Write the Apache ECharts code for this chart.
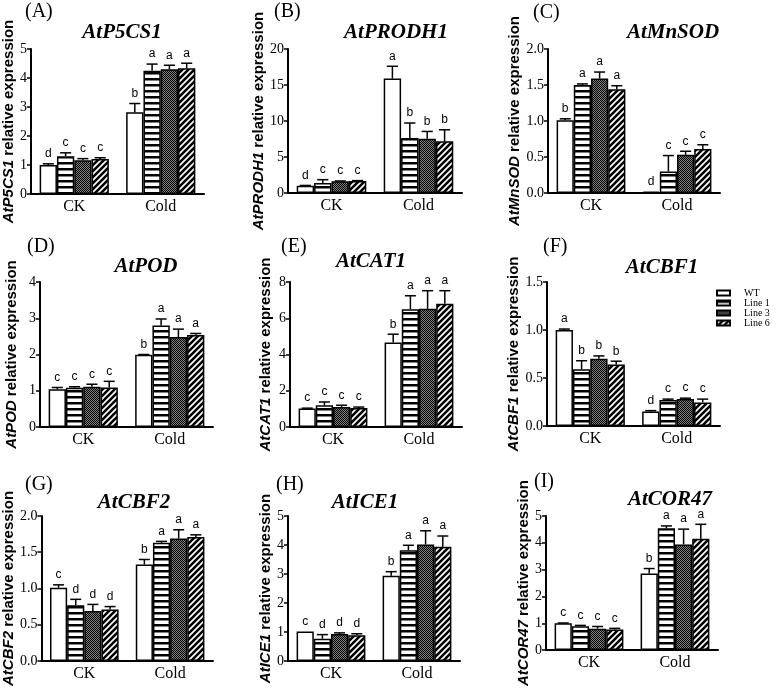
<!DOCTYPE html>
<html><head><meta charset="utf-8">
<script src="https://cdn.jsdelivr.net/npm/echarts@6/dist/echarts.min.js"></script>
<style>html,body{margin:0;padding:0;background:#fff}#c{width:777px;height:688px}</style>
</head><body><div id="c"></div>
<script>
// ---------------- data ----------------
const categories = ['CK', 'Cold'];
const genotypes = ['WT', 'Line 1', 'Line 3', 'Line 6'];

// each row = one genotype, values = [CK, Cold]
const p5cs1Mean = [[1.00, 2.82], [1.30, 4.25], [1.16, 4.30], [1.21, 4.34]];
const p5cs1Err  = [[0.04, 0.30], [0.12, 0.23], [0.06, 0.14], [0.04, 0.17]];
const p5cs1Sig  = [['d', 'b'], ['c', 'a'], ['c', 'a'], ['c', 'a']];

const prodh1Mean = [[1.00, 15.9], [1.39, 7.64], [1.62, 7.55], [1.67, 7.18]];
const prodh1Err  = [[0.05, 1.70], [0.46, 2.08], [0.05, 1.00], [0.05, 1.60]];
const prodh1Sig  = [['d', 'a'], ['c', 'b'], ['c', 'b'], ['c', 'b']];

const mnsodMean = [[1.01, 0.02], [1.50, 0.30], [1.59, 0.53], [1.44, 0.61]];
const mnsodErr  = [[0.02, 0.00], [0.015, 0.22], [0.09, 0.05], [0.05, 0.06]];
const mnsodSig  = [['b', 'd'], ['a', 'c'], ['a', 'c'], ['a', 'c']];

const podMean = [[1.04, 1.99], [1.08, 2.80], [1.11, 2.48], [1.09, 2.54]];
const podErr  = [[0.05, 0.01], [0.03, 0.18], [0.07, 0.22], [0.17, 0.04]];
const podSig  = [['c', 'b'], ['c', 'a'], ['c', 'a'], ['c', 'a']];

const cat1Mean = [[1.02, 4.66], [1.20, 6.50], [1.11, 6.52], [1.05, 6.80]];
const cat1Err  = [[0.02, 0.46], [0.18, 0.74], [0.09, 1.00], [0.05, 0.72]];
const cat1Sig  = [['c', 'b'], ['c', 'a'], ['c', 'a'], ['c', 'a']];

const cbf1Mean = [[1.00, 0.15], [0.59, 0.27], [0.70, 0.28], [0.64, 0.245]];
const cbf1Err  = [[0.01, 0.01], [0.09, 0.01], [0.03, 0.01], [0.035, 0.035]];
const cbf1Sig  = [['a', 'd'], ['b', 'c'], ['b', 'c'], ['b', 'c']];

const cbf2Mean = [[1.01, 1.33], [0.77, 1.63], [0.69, 1.69], [0.71, 1.71]];
const cbf2Err  = [[0.04, 0.07], [0.08, 0.02], [0.09, 0.12], [0.04, 0.03]];
const cbf2Sig  = [['c', 'b'], ['d', 'a'], ['d', 'a'], ['d', 'a']];

const ice1Mean = [[1.02, 2.94], [0.77, 3.82], [0.93, 4.02], [0.89, 3.94]];
const ice1Err  = [[0.00, 0.14], [0.14, 0.17], [0.04, 0.47], [0.05, 0.37]];
const ice1Sig  = [['c', 'b'], ['d', 'a'], ['d', 'a'], ['d', 'a']];

const cor47Mean = [[1.00, 2.86], [0.89, 4.54], [0.80, 3.94], [0.77, 4.15]];
const cor47Err  = [[0.01, 0.18], [0.03, 0.09], [0.08, 0.57], [0.04, 0.54]];
const cor47Sig  = [['c', 'b'], ['c', 'a'], ['c', 'a'], ['c', 'a']];

const geneNames = ['AtP5CS1', 'AtPRODH1', 'AtMnSOD', 'AtPOD', 'AtCAT1', 'AtCBF1', 'AtCBF2', 'AtICE1', 'AtCOR47'];
const panelTags = ['(A)', '(B)', '(C)', '(D)', '(E)', '(F)', '(G)', '(H)', '(I)'];
const yMax      = [5, 20, 2, 4, 8, 1.5, 2, 5, 5];
const yInterval = [1, 5, 0.5, 1, 2, 0.5, 0.5, 1, 1];
const yDecimals = [0, 0, 1, 0, 0, 1, 1, 0, 0];

const genes = [
  [p5cs1Mean, p5cs1Err, p5cs1Sig], [prodh1Mean, prodh1Err, prodh1Sig], [mnsodMean, mnsodErr, mnsodSig],
  [podMean, podErr, podSig], [cat1Mean, cat1Err, cat1Sig], [cbf1Mean, cbf1Err, cbf1Sig],
  [cbf2Mean, cbf2Err, cbf2Sig], [ice1Mean, ice1Err, ice1Sig], [cor47Mean, cor47Err, cor47Sig]
];

// ---------------- layout ----------------
const layout = [
  {left: 31,  right: 204, top: 49,  bottom: 194, nameGap: 15, tx: 122, ty: 33,  lx: 25,  ly: 12},
  {left: 288, right: 462, top: 49,  bottom: 193, nameGap: 15, tx: 396, ty: 33,  lx: 274, ly: 12},
  {left: 548, right: 720, top: 49,  bottom: 193, nameGap: 18, tx: 673, ty: 33,  lx: 533, ly: 13},
  {left: 40,  right: 213, top: 282, bottom: 427, nameGap: 21, tx: 146, ty: 267, lx: 27,  ly: 247},
  {left: 290, right: 462, top: 282, bottom: 427, nameGap: 17, tx: 371, ty: 262, lx: 281, ly: 247},
  {left: 547, right: 720, top: 282, bottom: 426, nameGap: 16, tx: 662, ty: 268, lx: 543, ly: 247},
  {left: 39,  right: 213, top: 516, bottom: 661, nameGap: 22, tx: 134, ty: 503, lx: 25,  ly: 485},
  {left: 288, right: 460, top: 516, bottom: 661, nameGap: 14, tx: 365, ty: 503, lx: 276, ly: 485},
  {left: 546, right: 718, top: 516, bottom: 661, nameGap: 15, tx: 670, ty: 500, lx: 534, ly: 482}
];

const SERIF = '"Liberation Serif", "Times New Roman", serif';
const SANS = '"Liberation Sans", Arial, sans-serif';

// ---------------- patterns ----------------
function mk(w, h, draw) {
  const c = document.createElement('canvas'); c.width = w; c.height = h;
  const ctx = c.getContext('2d'); ctx.fillStyle = '#fff'; ctx.fillRect(0, 0, w, h); draw(ctx, w, h);
  return {image: c, repeat: 'repeat'};
}
const fillWT = '#ffffff';
const fillL1 = mk(6, 6, (ctx) => { ctx.fillStyle = '#000'; ctx.fillRect(0, 0, 6, 2.5); });
const fillL3 = mk(2, 2, (ctx) => {
  ctx.fillStyle = '#808080'; ctx.fillRect(0, 0, 2, 2);
  ctx.fillStyle = '#000'; ctx.fillRect(0, 0, 1, 1); ctx.fillRect(1, 1, 1, 1);
});
const fillL6 = mk(6, 6, (ctx, w, h) => {
  ctx.strokeStyle = '#000'; ctx.lineWidth = 2.6; ctx.beginPath();
  ctx.moveTo(-1, h + 1); ctx.lineTo(w + 1, -1);
  ctx.moveTo(-1, 1); ctx.lineTo(1, -1);
  ctx.moveTo(w - 1, h + 1); ctx.lineTo(w + 1, h - 1);
  ctx.stroke();
});
const fills = [fillWT, fillL1, fillL3, fillL6];

// ---------------- option ----------------
const grid = [], xAxis = [], yAxis = [], series = [], graphic = [];
layout.forEach((p, i) => {
  grid.push({left: p.left, top: p.top, width: p.right - p.left, height: p.bottom - p.top});
  xAxis.push({
    type: 'category', gridIndex: i, data: categories,
    axisTick: {show: false},
    axisLine: {lineStyle: {color: '#000', width: 2}},
    axisLabel: {color: '#000', fontFamily: SERIF, fontSize: 16, margin: 5}
  });
  yAxis.push({
    type: 'value', gridIndex: i, min: 0, max: yMax[i], interval: yInterval[i],
    splitLine: {show: false},
    axisLine: {show: true, lineStyle: {color: '#000', width: 2}},
    axisTick: {show: true, length: 4, lineStyle: {color: '#000', width: 1.5}},
    axisLabel: {color: '#000', fontFamily: SERIF, fontSize: 14, margin: 4,
      formatter: v => yDecimals[i] ? v.toFixed(yDecimals[i]) : String(v)},
    name: '{i|' + geneNames[i] + '} relative expression',
    nameLocation: 'middle', nameGap: p.nameGap,
    nameTextStyle: {color: '#000', fontFamily: SANS, fontWeight: 'bold', fontSize: 15,
      rich: {i: {color: '#000', fontFamily: SANS, fontWeight: 'bold', fontStyle: 'italic', fontSize: 15}}}
  });
  const [mean, err, sig] = genes[i];
  genotypes.forEach((g, k) => {
    series.push({
      type: 'bar', name: g, xAxisIndex: i, yAxisIndex: i, data: mean[k],
      barGap: '0%', barCategoryGap: '20%', silent: true,
      itemStyle: {color: fills[k], borderColor: '#000', borderWidth: 1.5}
    });
  });
  const eData = [], letters = [];
  categories.forEach((c, ci) => {
    genotypes.forEach((g, k) => { eData.push([ci, k, mean[k][ci], err[k][ci]]); letters.push(sig[k][ci]); });
  });
  series.push({
    type: 'custom', xAxisIndex: i, yAxisIndex: i, data: eData, silent: true, z: 5,
    encode: {x: 0, y: 2},
    renderItem: (params, api) => {
      const ci = api.value(0), k = api.value(1), v = api.value(2), e = api.value(3);
      const band = api.size([1, 0])[0];
      const bw = band * 0.8 / 4;
      const base = api.coord([ci, v]);
      const x = base[0] + (k - 1.5) * bw;
      const yTop = api.coord([ci, v + e])[1];
      const cap = bw * 0.32;
      const children = [];
      if (e > 0) {
        children.push({type: 'line', shape: {x1: x, y1: base[1], x2: x, y2: yTop}, style: {stroke: '#000', lineWidth: 1.5}});
        children.push({type: 'line', shape: {x1: x - cap, y1: yTop, x2: x + cap, y2: yTop}, style: {stroke: '#000', lineWidth: 1.5}});
      }
      children.push({type: 'text', x: x, y: yTop - 4,
        style: {text: letters[params.dataIndex], fill: '#000', font: '12px ' + SANS, align: 'center', verticalAlign: 'bottom'}});
      return {type: 'group', children};
    }
  });
  graphic.push({type: 'text', x: p.tx, y: p.ty, silent: true,
    style: {text: geneNames[i], font: 'italic bold 21px ' + SERIF, fill: '#000', align: 'center', verticalAlign: 'middle'}});
  graphic.push({type: 'text', x: p.lx, y: p.ly, silent: true,
    style: {text: panelTags[i], font: '20px ' + SERIF, fill: '#000', align: 'left', verticalAlign: 'middle'}});
});

const chart = echarts.init(document.getElementById('c'), null, {renderer: 'canvas'});
chart.setOption({
  animation: false,
  backgroundColor: '#fff',
  grid, xAxis, yAxis, series, graphic,
  legend: {
    data: genotypes, orient: 'vertical', left: 716, top: 288, padding: 0,
    itemWidth: 13, itemHeight: 5, itemGap: 0, icon: 'rect', selectedMode: false,
    textStyle: {fontFamily: SERIF, fontSize: 10, color: '#000', padding: [0, 0, 0, 9]}
  }
});
</script></body></html>
